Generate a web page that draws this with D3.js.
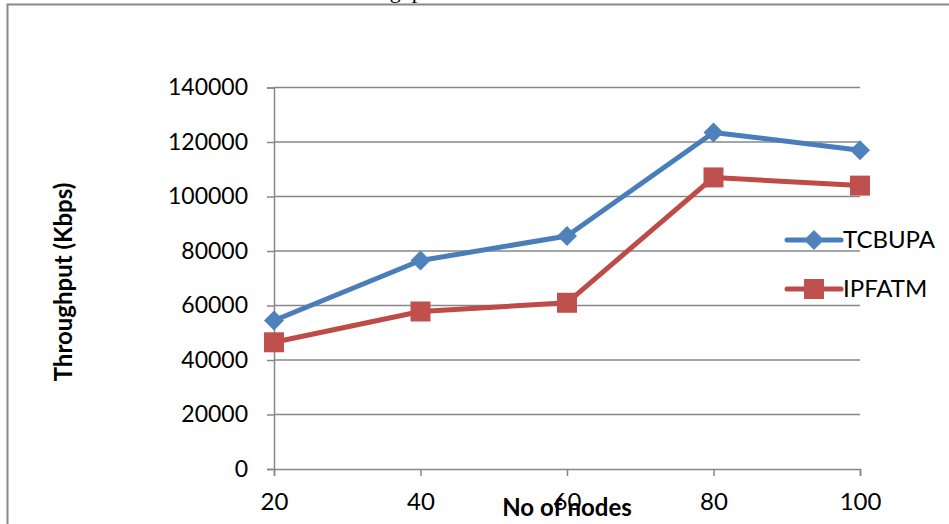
<!DOCTYPE html>
<html>
<head>
<meta charset="utf-8">
<script src="https://cdn.jsdelivr.net/npm/d3@7"></script>
<style>
  html, body { margin: 0; padding: 0; background: #fff; }
  svg { display: block; }
</style>
</head>
<body>
<svg id="chart" width="949" height="524"></svg>
<script>
// Number of nodes on the x axis
const categories = ["20", "40", "60", "80", "100"];
// Throughput (Kbps) per protocol
const tcbupa = [54500, 76500, 85500, 123500, 117000];
const ipfatm = [46500, 57800, 61000, 107000, 104000];
const yTicks = [0, 20000, 40000, 60000, 80000, 100000, 120000, 140000];
const seriesNames = ["TCBUPA", "IPFATM"];

const svg = d3.select("#chart");
const font = "Lato, 'Open Sans', sans-serif";
const gridColor = "#878787";

// chart frame (extends past the right/bottom edge)
svg.append("rect")
  .attr("x", 7.5).attr("y", 4.5)
  .attr("width", 1000).attr("height", 600)
  .attr("fill", "#fff")
  .attr("stroke", "#8a8a8a").attr("stroke-width", 2);

// title, mostly clipped above the frame
svg.append("text")
  .attr("x", 388).attr("y", -2)
  .attr("text-anchor", "middle")
  .attr("font-family", "'Liberation Serif', serif")
  .attr("font-size", 22)
  .attr("fill", "#000")
  .text("Throughput");

const plot = { left: 274, right: 860, top: 87.5, bottom: 469 };

const x = d3.scalePoint().domain(categories).range([plot.left, plot.right]);
const y = d3.scaleLinear().domain([0, 140000]).range([plot.bottom, plot.top]);

// horizontal gridlines
svg.append("g").selectAll("line")
  .data(yTicks.filter(d => d > 0))
  .join("line")
  .attr("x1", plot.left).attr("x2", plot.right)
  .attr("y1", d => y(d)).attr("y2", d => y(d))
  .attr("stroke", gridColor).attr("stroke-width", 1.5);

// y axis
const yAxis = svg.append("g")
  .attr("transform", `translate(${plot.left},0)`)
  .call(d3.axisLeft(y).tickValues(yTicks).tickSize(7).tickPadding(19).tickFormat(d3.format("d")));
yAxis.select(".domain").attr("stroke", gridColor).attr("stroke-width", 1.5);
yAxis.selectAll(".tick line").attr("stroke", gridColor).attr("stroke-width", 1.5);
yAxis.selectAll("text")
  .attr("font-family", font).attr("font-size", 23).attr("fill", "#000");

// x axis
const xAxis = svg.append("g")
  .attr("transform", `translate(0,${plot.bottom})`)
  .call(d3.axisBottom(x).tickSize(7).tickPadding(17));
xAxis.select(".domain").attr("stroke", gridColor).attr("stroke-width", 1.5);
xAxis.selectAll(".tick line").attr("stroke", gridColor).attr("stroke-width", 1.5);
xAxis.selectAll("text")
  .attr("font-family", font).attr("font-size", 24).attr("fill", "#000");

// axis titles
svg.append("text")
  .attr("x", 567).attr("y", 516)
  .attr("text-anchor", "middle")
  .attr("font-family", font).attr("font-weight", "bold").attr("font-size", 24)
  .attr("fill", "#000")
  .text("No of nodes");

svg.append("text")
  .attr("transform", "translate(72,282) rotate(-90)")
  .attr("text-anchor", "middle")
  .attr("font-family", font).attr("font-weight", "bold").attr("font-size", 24)
  .attr("fill", "#000")
  .text("Throughput (Kbps)");

const series = [
  { name: seriesNames[0], values: tcbupa, line: "#4A7EBB", fill: "#4F81BD", shape: "diamond" },
  { name: seriesNames[1], values: ipfatm, line: "#BE4B48", fill: "#C0504D", shape: "square" }
];

const line = d3.line().x((d, i) => x(categories[i])).y(d => y(d));

function marker(g, shape, cx, cy, color) {
  if (shape === "diamond") {
    g.append("path")
      .attr("d", `M${cx},${cy - 10}L${cx + 10},${cy}L${cx},${cy + 10}L${cx - 10},${cy}Z`)
      .attr("fill", color);
  } else {
    g.append("rect")
      .attr("x", cx - 10).attr("y", cy - 10)
      .attr("width", 20).attr("height", 20)
      .attr("fill", color);
  }
}

series.forEach(s => {
  const g = svg.append("g");
  g.append("path")
    .datum(s.values)
    .attr("d", line)
    .attr("fill", "none")
    .attr("stroke", s.line)
    .attr("stroke-width", 5)
    .attr("stroke-linejoin", "round");
  s.values.forEach((v, i) => marker(g, s.shape, x(categories[i]), y(v), s.fill));
});

// legend
const legendY = [240, 289];
series.forEach((s, i) => {
  const g = svg.append("g");
  g.append("line")
    .attr("x1", 787).attr("x2", 841)
    .attr("y1", legendY[i]).attr("y2", legendY[i])
    .attr("stroke", s.line).attr("stroke-width", 5).attr("stroke-linecap", "round");
  marker(g, s.shape, 814, legendY[i], s.fill);
  g.append("text")
    .attr("x", 843).attr("y", legendY[i])
    .attr("dy", "0.35em")
    .attr("font-family", font).attr("font-size", 24).attr("fill", "#000")
    .text(s.name);
});
</script>
</body>
</html>
